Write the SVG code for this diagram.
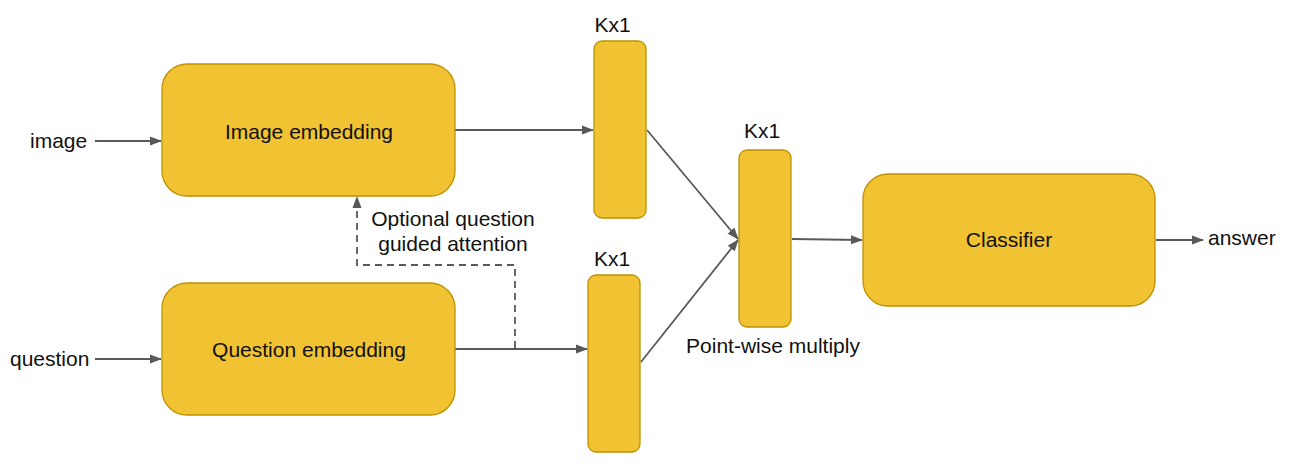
<svg xmlns="http://www.w3.org/2000/svg" width="1293" height="464" viewBox="0 0 1293 464">
<style>
.box{fill:#f1c232;stroke:#bf9000;stroke-width:1.3}
.t{font-family:"Liberation Sans",Arial,sans-serif;font-size:21px;fill:#111}
.c{stroke:#595959;stroke-width:1.8;fill:none}
.d{stroke:#595959;stroke-width:1.8;fill:none;stroke-dasharray:7,5}
</style>
<defs>
<marker id="ah" markerWidth="12" markerHeight="10" refX="11" refY="5" orient="auto" markerUnits="userSpaceOnUse">
<path d="M0,0.5 L12,5 L0,9.5 Z" fill="#595959"/>
</marker>
</defs>
<rect width="1293" height="464" fill="#fff"/>
<g id="connectors">
<line class="c" x1="95" y1="141" x2="161" y2="141" marker-end="url(#ah)"/>
<line class="c" x1="95" y1="359" x2="161" y2="359" marker-end="url(#ah)"/>
<line class="c" x1="455" y1="130" x2="593" y2="130" marker-end="url(#ah)"/>
<line class="c" x1="455" y1="349" x2="587" y2="349" marker-end="url(#ah)"/>
<line class="c" x1="647" y1="130" x2="738" y2="239" marker-end="url(#ah)"/>
<line class="c" x1="641" y1="362" x2="738" y2="240" marker-end="url(#ah)"/>
<line class="c" x1="792" y1="239" x2="862" y2="240" marker-end="url(#ah)"/>
<line class="c" x1="1156" y1="240" x2="1203" y2="240" marker-end="url(#ah)"/>
<path class="d" d="M515,348 V265 H357 V197" marker-end="url(#ah)"/>
</g>
<g id="label-image"><text class="t" x="30" y="148">image</text></g>
<g id="label-question"><text class="t" x="10" y="366">question</text></g>
<g id="image-embedding">
<rect class="box" x="162" y="64" width="293" height="132" rx="25"/>
<text class="t" x="309" y="139" text-anchor="middle">Image embedding</text>
</g>
<g id="question-embedding">
<rect class="box" x="162" y="283" width="293" height="132" rx="25"/>
<text class="t" x="309" y="357" text-anchor="middle">Question embedding</text>
</g>
<g id="attention-label">
<text class="t" x="453" y="226" text-anchor="middle">Optional question</text>
<text class="t" x="453" y="251" text-anchor="middle">guided attention</text>
</g>
<g id="image-vector">
<rect class="box" x="594" y="41" width="52" height="177" rx="8"/>
<text class="t" x="612.5" y="32" text-anchor="middle">Kx1</text>
</g>
<g id="question-vector">
<rect class="box" x="588" y="275" width="52" height="177" rx="8"/>
<text class="t" x="612" y="266" text-anchor="middle">Kx1</text>
</g>
<g id="product-vector">
<rect class="box" x="739" y="150" width="52" height="177" rx="8"/>
<text class="t" x="762" y="138" text-anchor="middle">Kx1</text>
<text class="t" x="773" y="353" text-anchor="middle">Point-wise multiply</text>
</g>
<g id="classifier">
<rect class="box" x="863" y="174" width="292" height="132" rx="25"/>
<text class="t" x="1009" y="247" text-anchor="middle">Classifier</text>
</g>
<g id="label-answer"><text class="t" x="1208" y="245">answer</text></g>
</svg>
